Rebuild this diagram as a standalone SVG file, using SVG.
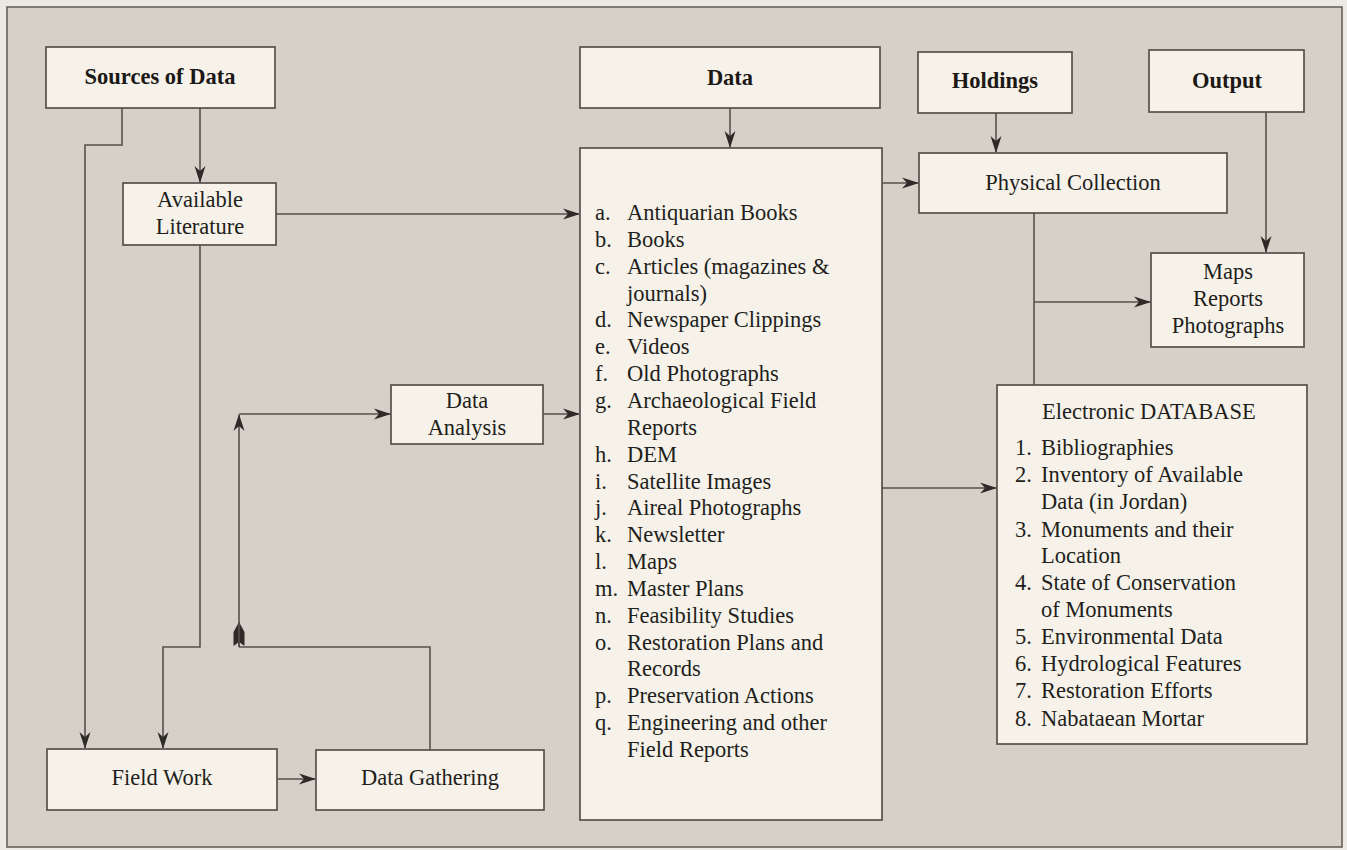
<svg xmlns="http://www.w3.org/2000/svg" width="1347" height="850" viewBox="0 0 1347 850">
<style>
.box{fill:#f6f2ea;stroke:#55504b;stroke-width:1.7}
.ln{fill:none;stroke:#55504b;stroke-width:1.6}
.t{font-family:"Liberation Serif","Times New Roman",serif;font-size:22.5px;fill:#221e1b}
.b{font-family:"Liberation Serif","Times New Roman",serif;font-size:22.5px;font-weight:bold;fill:#1c1815}
.c{text-anchor:middle}
</style>
<defs>
<marker id="ah" markerUnits="userSpaceOnUse" markerWidth="18" markerHeight="12" refX="16" refY="5.5" orient="auto" overflow="visible">
<path d="M0,0 L17,5.5 L0,11 L5,5.5 Z" fill="#2e2a27"/>
</marker>
<marker id="bullet" markerUnits="userSpaceOnUse" markerWidth="26" markerHeight="12" refX="24" refY="5.5" orient="auto" overflow="visible">
<path d="M0,0 L14,0 L24,5.5 L14,11 L0,11 L4,5.5 Z" fill="#2e2a27"/>
</marker>
</defs>
<rect x="0" y="0" width="1347" height="850" fill="#ece8e2"/>
<rect x="7" y="7" width="1335" height="840" fill="#d6d0c9" stroke="#66615b" stroke-width="1.6"/>

<g id="connectors">
<path class="ln" d="M200,108 V182" marker-end="url(#ah)"/>
<path class="ln" d="M122,108 V145 H85 V748" marker-end="url(#ah)"/>
<path class="ln" d="M200,245 V647 H163 V748" marker-end="url(#ah)"/>
<path class="ln" d="M276,214 H579" marker-end="url(#ah)"/>
<path class="ln" d="M430,750 V647 H239"/>
<path class="ln" d="M239,647 V622" marker-end="url(#bullet)"/>
<path class="ln" d="M239,647 V415" marker-end="url(#ah)"/>
<path class="ln" d="M239,414 H390" marker-end="url(#ah)"/>
<path class="ln" d="M543,414 H579" marker-end="url(#ah)"/>
<path class="ln" d="M277,779 H315" marker-end="url(#ah)"/>
<path class="ln" d="M730,108 V147" marker-end="url(#ah)"/>
<path class="ln" d="M882,183 H918" marker-end="url(#ah)"/>
<path class="ln" d="M996,113 V152" marker-end="url(#ah)"/>
<path class="ln" d="M1266,112 V252" marker-end="url(#ah)"/>
<path class="ln" d="M1034,213 V385"/>
<path class="ln" d="M1034,302 H1150" marker-end="url(#ah)"/>
<path class="ln" d="M882,488 H996" marker-end="url(#ah)"/>
</g>

<g id="sources">
<rect class="box" x="46" y="47" width="229" height="61"/>
<text class="b c" x="160" y="84">Sources of Data</text>
</g>
<g id="available-literature">
<rect class="box" x="123" y="183" width="153" height="62"/>
<text class="t c" x="200" y="207">Available</text>
<text class="t c" x="200" y="234">Literature</text>
</g>
<g id="data-analysis">
<rect class="box" x="391" y="385" width="152" height="59"/>
<text class="t c" x="467" y="408">Data</text>
<text class="t c" x="467" y="435">Analysis</text>
</g>
<g id="field-work">
<rect class="box" x="47" y="749" width="230" height="61"/>
<text class="t c" x="162" y="785">Field Work</text>
</g>
<g id="data-gathering">
<rect class="box" x="316" y="750" width="228" height="60"/>
<text class="t c" x="430" y="785">Data Gathering</text>
</g>
<g id="data">
<rect class="box" x="580" y="47" width="300" height="61"/>
<text class="b c" x="730" y="85">Data</text>
</g>
<g id="data-list">
<rect class="box" x="580" y="148" width="302" height="672"/>
<text class="t">
<tspan x="595" y="220">a.</tspan><tspan x="627" y="220">Antiquarian Books</tspan>
<tspan x="595" y="247">b.</tspan><tspan x="627" y="247">Books</tspan>
<tspan x="595" y="274">c.</tspan><tspan x="627" y="274">Articles (magazines &amp;</tspan>
<tspan x="627" y="301">journals)</tspan>
<tspan x="595" y="327">d.</tspan><tspan x="627" y="327">Newspaper Clippings</tspan>
<tspan x="595" y="354">e.</tspan><tspan x="627" y="354">Videos</tspan>
<tspan x="595" y="381">f.</tspan><tspan x="627" y="381">Old Photographs</tspan>
<tspan x="595" y="408">g.</tspan><tspan x="627" y="408">Archaeological Field</tspan>
<tspan x="627" y="435">Reports</tspan>
<tspan x="595" y="462">h.</tspan><tspan x="627" y="462">DEM</tspan>
<tspan x="595" y="489">i.</tspan><tspan x="627" y="489">Satellite Images</tspan>
<tspan x="595" y="515">j.</tspan><tspan x="627" y="515">Aireal Photographs</tspan>
<tspan x="595" y="542">k.</tspan><tspan x="627" y="542">Newsletter</tspan>
<tspan x="595" y="569">l.</tspan><tspan x="627" y="569">Maps</tspan>
<tspan x="595" y="596">m.</tspan><tspan x="627" y="596">Master Plans</tspan>
<tspan x="595" y="623">n.</tspan><tspan x="627" y="623">Feasibility Studies</tspan>
<tspan x="595" y="650">o.</tspan><tspan x="627" y="650">Restoration Plans and</tspan>
<tspan x="627" y="676">Records</tspan>
<tspan x="595" y="703">p.</tspan><tspan x="627" y="703">Preservation Actions</tspan>
<tspan x="595" y="730">q.</tspan><tspan x="627" y="730">Engineering and other</tspan>
<tspan x="627" y="757">Field Reports</tspan>
</text>
</g>
<g id="holdings">
<rect class="box" x="918" y="52" width="154" height="61"/>
<text class="b c" x="995" y="88">Holdings</text>
</g>
<g id="output">
<rect class="box" x="1149" y="50" width="155" height="62"/>
<text class="b c" x="1227" y="88">Output</text>
</g>
<g id="physical-collection">
<rect class="box" x="919" y="153" width="308" height="60"/>
<text class="t c" x="1073" y="190">Physical Collection</text>
</g>
<g id="maps-reports">
<rect class="box" x="1151" y="253" width="153" height="94"/>
<text class="t c" x="1228" y="279">Maps</text>
<text class="t c" x="1228" y="306">Reports</text>
<text class="t c" x="1228" y="333">Photographs</text>
</g>
<g id="electronic-database">
<rect class="box" x="997" y="385" width="310" height="359"/>
<text class="t" x="1042" y="419">Electronic DATABASE</text>
<text class="t">
<tspan x="1015" y="455">1.</tspan><tspan x="1041" y="455">Bibliographies</tspan>
<tspan x="1015" y="482">2.</tspan><tspan x="1041" y="482">Inventory of Available</tspan>
<tspan x="1041" y="509">Data (in Jordan)</tspan>
<tspan x="1015" y="537">3.</tspan><tspan x="1041" y="537">Monuments and their</tspan>
<tspan x="1041" y="563">Location</tspan>
<tspan x="1015" y="590">4.</tspan><tspan x="1041" y="590">State of Conservation</tspan>
<tspan x="1041" y="617">of Monuments</tspan>
<tspan x="1015" y="644">5.</tspan><tspan x="1041" y="644">Environmental Data</tspan>
<tspan x="1015" y="671">6.</tspan><tspan x="1041" y="671">Hydrological Features</tspan>
<tspan x="1015" y="698">7.</tspan><tspan x="1041" y="698">Restoration Efforts</tspan>
<tspan x="1015" y="726">8.</tspan><tspan x="1041" y="726">Nabataean Mortar</tspan>
</text>
</g>
</svg>
